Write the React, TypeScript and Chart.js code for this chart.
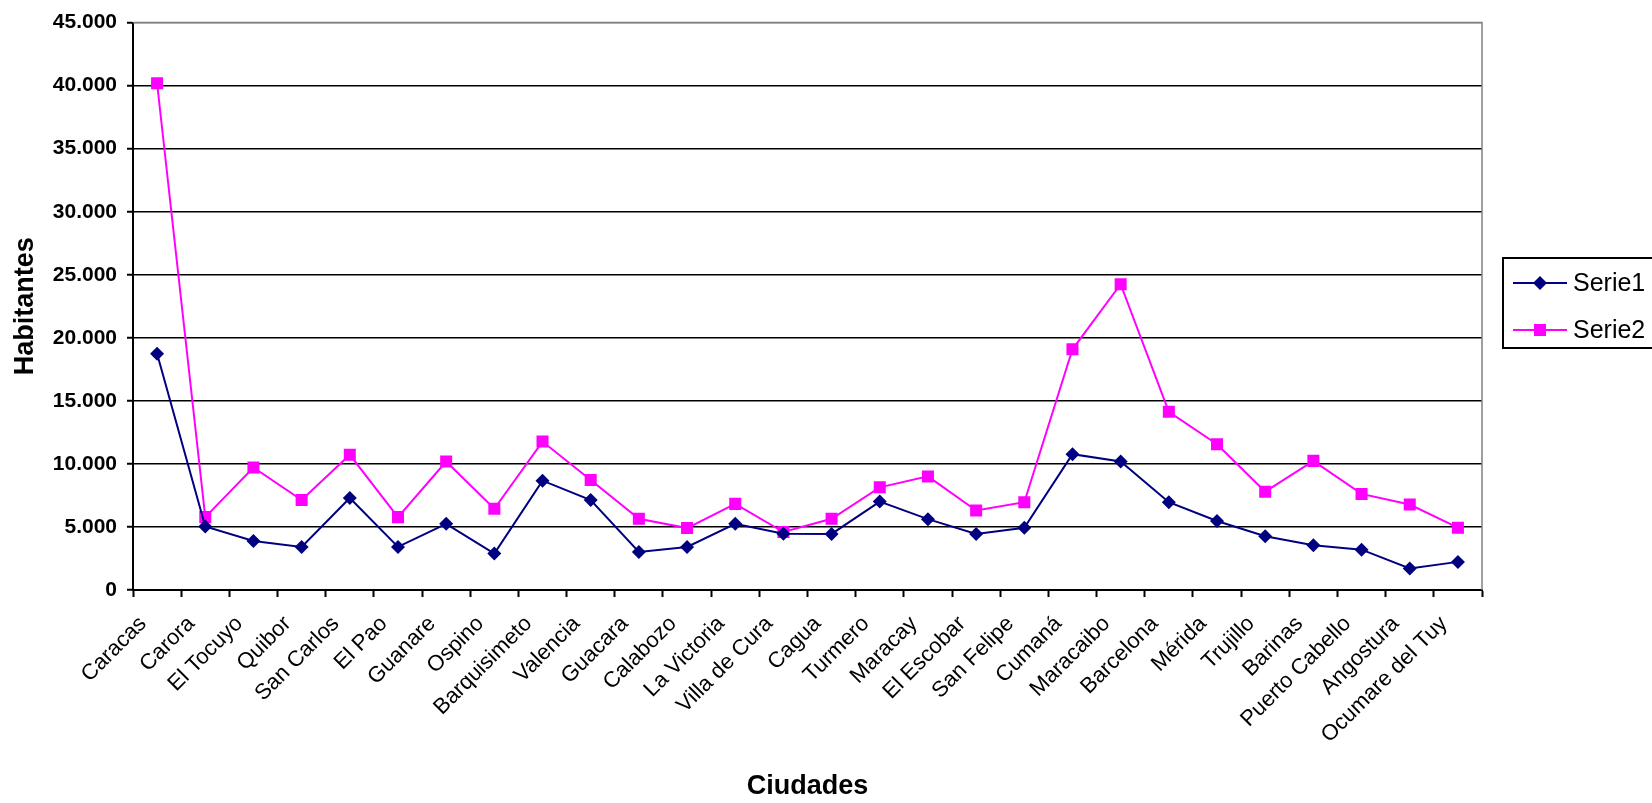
import React, { useEffect, useRef } from "react";
import { Chart, registerables } from "chart.js";

Chart.register(...registerables);

const categories = [
  "Caracas", "Carora", "El Tocuyo", "Quibor", "San Carlos", "El Pao", "Guanare",
  "Ospino", "Barquisimeto", "Valencia", "Guacara", "Calabozo", "La Victoria",
  "Villa de Cura", "Cagua", "Turmero", "Maracay", "El Escobar", "San Felipe",
  "Cumaná", "Maracaibo", "Barcelona", "Mérida", "Trujillo", "Barinas",
  "Puerto Cabello", "Angostura", "Ocumare del Tuy",
];

const serie1 = [
  18730, 5040, 3890, 3420, 7300, 3420, 5250, 2890, 8670, 7140, 3020, 3410, 5250,
  4470, 4450, 7010, 5620, 4450, 4940, 10770, 10190, 6960, 5470, 4260, 3550,
  3200, 1710, 2230,
];

const serie2 = [
  40190, 5780, 9720, 7140, 10720, 5780, 10190, 6440, 11770, 8720, 5650, 4910,
  6830, 4600, 5650, 8140, 9010, 6300, 6960, 19090, 24250, 14130, 11560, 7800,
  10240, 7620, 6780, 4940,
];

const seriesNames = ["Serie1", "Serie2"];
const seriesColors = ["#000080", "#FF00FF"];
const seriesMarkers = ["rectRot", "rect"];
const yMax = 45000;
const yStep = 5000;

const FONT = "'Liberation Sans', Arial, sans-serif";

const formatThousands = (v: number) =>
  String(Math.round(v)).replace(/\B(?=(\d{3})+(?!\d))/g, ".");

const plotBorderPlugin = {
  id: "plotBorder",
  beforeDatasetsDraw(chart: any) {
    const { ctx, chartArea } = chart;
    ctx.save();
    ctx.strokeStyle = "#808080";
    ctx.lineWidth = 1.5;
    ctx.beginPath();
    ctx.moveTo(chartArea.left, chartArea.top);
    ctx.lineTo(chartArea.right, chartArea.top);
    ctx.lineTo(chartArea.right, chartArea.bottom);
    ctx.stroke();
    ctx.restore();
  },
};

const legendPlugin = {
  id: "customLegend",
  afterDraw(chart: any) {
    const { ctx } = chart;
    ctx.save();
    ctx.strokeStyle = "#000";
    ctx.lineWidth = 2;
    ctx.strokeRect(1503, 258, 170, 90);
    const rows = [283, 330];
    chart.data.datasets.forEach((ds: any, i: number) => {
      const y = rows[i];
      ctx.strokeStyle = ds.borderColor;
      ctx.lineWidth = 2;
      ctx.beginPath();
      ctx.moveTo(1513, y);
      ctx.lineTo(1567, y);
      ctx.stroke();
      ctx.fillStyle = ds.borderColor;
      if (ds.pointStyle === "rect") {
        ctx.fillRect(1534, y - 6, 12, 12);
      } else {
        ctx.beginPath();
        ctx.moveTo(1540, y - 7);
        ctx.lineTo(1547, y);
        ctx.lineTo(1540, y + 7);
        ctx.lineTo(1533, y);
        ctx.closePath();
        ctx.fill();
      }
      ctx.fillStyle = "#000";
      ctx.font = `25px ${FONT}`;
      ctx.textBaseline = "middle";
      ctx.textAlign = "left";
      ctx.fillText(ds.label, 1573, y + 1);
    });
    ctx.restore();
  },
};

export default function App() {
  const canvasRef = useRef<HTMLCanvasElement | null>(null);

  useEffect(() => {
    const canvas = canvasRef.current;
    if (!canvas) return;
    const datasets = [serie1, serie2].map((vals, i) => ({
      label: seriesNames[i],
      data: vals,
      borderColor: seriesColors[i],
      backgroundColor: seriesColors[i],
      borderWidth: 2,
      pointStyle: seriesMarkers[i],
      pointRadius: i === 0 ? 7 : 8.5,
      pointHoverRadius: i === 0 ? 7 : 8.5,
      pointBorderWidth: 0,
      tension: 0,
      fill: false,
    }));
    const chart = new Chart(canvas, {
      type: "line",
      data: { labels: categories, datasets },
      plugins: [plotBorderPlugin, legendPlugin],
      options: {
        animation: false,
        responsive: false,
        devicePixelRatio: 1,
        layout: { padding: { left: 0, right: 170, top: 19, bottom: 0 } },
        plugins: {
          legend: { display: false },
          tooltip: { enabled: false },
        },
        scales: {
          x: {
            type: "category",
            offset: true,
            grid: {
              display: true,
              drawOnChartArea: false,
              drawTicks: true,
              offset: true,
              tickLength: 7,
              tickColor: "#000",
              tickWidth: 2,
            },
            border: { display: true, color: "#000", width: 2 },
            ticks: {
              autoSkip: false,
              minRotation: 45,
              maxRotation: 45,
              color: "#000",
              padding: 14,
              labelOffset: -14,
              font: { family: FONT, size: 22 },
            },
            title: {
              display: true,
              text: "Ciudades",
              color: "#000",
              padding: { top: 0, bottom: 0 },
              font: { family: FONT, size: 27, weight: "bold" },
            },
            afterFit(scale: any) {
              scale.height = 213;
            },
          },
          y: {
            min: 0,
            max: yMax,
            grid: {
              color: (c: any) => (c.tick && c.tick.value === yMax ? "#808080" : "#000"),
              lineWidth: 1.5,
              tickLength: 6,
              tickColor: "#000",
              tickWidth: 2,
            },
            border: { display: true, color: "#000", width: 2 },
            ticks: {
              stepSize: yStep,
              color: "#000",
              padding: 10,
              font: { family: FONT, size: 21, weight: "bold" },
              callback: (v: any) => formatThousands(Number(v)),
            },
            title: {
              display: true,
              text: "Habitantes",
              color: "#000",
              padding: { top: 9, bottom: 0 },
              font: { family: FONT, size: 27, weight: "bold" },
            },
            afterFit(scale: any) {
              scale.width = 133;
            },
          },
        },
      },
    } as any);
    return () => chart.destroy();
  }, []);

  return (
    <div style={{ position: "absolute", left: 0, top: 0, width: 1652, height: 803, background: "#fff" }}>
      <canvas ref={canvasRef} width={1652} height={803} style={{ display: "block", width: 1652, height: 803 }} />
    </div>
  );
}
